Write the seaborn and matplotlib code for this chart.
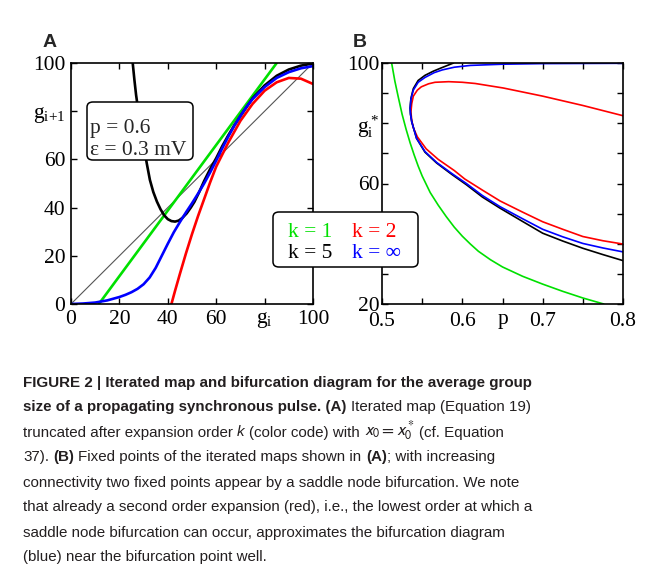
import matplotlib
matplotlib.use('Agg')
import matplotlib.pyplot as plt
import seaborn as sns
import numpy as np
import pandas as pd
from matplotlib.patches import FancyBboxPatch

# 数据
# panel A: iterated map g_i -> g_{i+1}
diag_x = [0, 100]
diag_y = [0, 100]

a_k1_x = [11.5, 85]
a_k1_y = [0, 100]

a_k2_x = [41.5, 43, 45, 47.5, 50, 52.5, 55, 57.5, 60, 65, 70, 75, 80, 85, 90, 95, 100]
a_k2_y = [0, 5.5, 12.5, 21, 29, 36.5, 43.5, 50.5, 57, 67, 76, 83, 88.5, 92, 93.8, 93.5, 91.3]

a_k5_x = [25.5, 26.2, 26.9, 27.7, 28.5, 29.2, 30, 31.3, 32.6, 34, 35.5, 37, 38.5, 40, 41.5,
          43, 44.5, 46, 47.8, 49.5, 51, 53, 55, 57.5, 60, 62.5, 65, 67.5, 70, 75, 80,
          85, 90, 95, 100]
a_k5_y = [100, 93, 86.7, 81, 76, 71, 66, 58.4, 51.5, 46.5, 42.5, 39.3, 36.8, 35.2, 34.4,
          34.2, 34.6, 35.7, 37.6, 40, 42.4, 46.5, 51, 56, 60.5, 65.5, 70, 74.2, 78, 85.3, 90.7,
          94.7, 97.3, 98.9, 99.8]

a_kinf_x = [0, 5, 10, 15, 20, 22.5, 25, 27.5, 30, 32.5, 35, 37.5, 40, 42.5, 45, 47.5, 50,
            52.5, 55, 57.5, 60, 62.5, 65, 67.5, 70, 72.5, 75, 80, 85, 90, 95, 100]
a_kinf_y = [0, 0.2, 0.6, 1.5, 2.9, 3.8, 4.9, 6.3, 8.2, 11, 15, 20, 25, 29.8, 34, 38,
            41.8, 45.8, 50, 54.6, 59.5, 64.6, 69.5, 74, 78, 81.8, 85, 90, 93.8, 96.2,
            97.8, 98.7]

# panel B: fixed points g_i* vs p
b_k1_p = [0.512, 0.516, 0.52, 0.525, 0.53, 0.535, 0.54, 0.545, 0.55, 0.56, 0.57, 0.58,
          0.59, 0.60, 0.61, 0.62, 0.635, 0.65, 0.675, 0.70, 0.725, 0.75, 0.776]
b_k1_g = [100, 94, 89, 83, 78, 73.5, 69.5, 65.8, 62.5, 57, 52.8, 49, 45.5, 42.5, 39.9,
          37.5, 34.7, 32.3, 29.2, 26.6, 24.2, 22, 20]

b_k2_p = [0.80, 0.75, 0.70, 0.651, 0.616, 0.60, 0.583, 0.566, 0.558, 0.549, 0.544, 0.539,
          0.537, 0.536, 0.537, 0.539, 0.544, 0.555, 0.57, 0.59, 0.603, 0.625, 0.647,
          0.675, 0.70, 0.725, 0.75, 0.775, 0.80]
b_k2_g = [82.5, 85.9, 89, 91.7, 93.2, 93.6, 93.8, 93.6, 93.1, 92.1, 91, 89,
          86.5, 83.7, 81, 78.5, 75.5, 71.5, 68, 64.3, 61.5, 57.8, 54.2,
          50.5, 47.3, 44.8, 42.4, 41, 39.9]

b_k5_p = [0.589, 0.574, 0.564, 0.5535, 0.545, 0.539, 0.536, 0.535, 0.5355, 0.537, 0.543,
          0.5535, 0.568, 0.587, 0.605, 0.625, 0.647, 0.675, 0.70, 0.725, 0.75, 0.775, 0.80]
b_k5_g = [100, 98.4, 97.3, 95.9, 94.2, 91.5, 88.2, 85, 83, 80.5, 75,
          70.4, 66.8, 63, 59.6, 55.5, 51.8, 47.4, 43.5, 40.9, 38.5, 36.4, 34.4]

b_kinf_p = [0.80, 0.70, 0.65, 0.61, 0.59, 0.575, 0.565, 0.5535, 0.545, 0.539, 0.536, 0.535,
            0.5355, 0.537, 0.543, 0.5535, 0.568, 0.587, 0.605, 0.625, 0.647, 0.675, 0.70,
            0.725, 0.75, 0.775, 0.80]
b_kinf_g = [99.9, 99.8, 99.6, 99.2, 98.6, 97.7, 96.8, 95.2, 93.6, 91, 88, 85,
            83, 80.5, 75, 70.6, 67, 63.3, 60, 56, 52.3, 48.3, 44.8,
            42.3, 40.1, 38.6, 37.3]

a_xticks = [0, 20, 40, 60, 80, 100]
a_xlabels = ['0', '20', '40', '60', r'$\mathrm{g_i}$', '100']
a_ylabels = ['0', '20', '40', '60', r'$\mathrm{g_{i{+}1}}$', '100']
b_xticks = [0.5, 0.55, 0.6, 0.65, 0.7, 0.75, 0.8]
b_xlabels = ['0.5', '', '0.6', r'$\mathrm{p}$', '0.7', '', '0.8']
b_yticks = [20, 30, 40, 50, 60, 70, 80, 90, 100]
# the 40 label sits under the colour-code box in the reference
b_ylabels = ['20', '', '', '', '60', '', r'$\mathrm{g_i^*}$', '', '100']

GREEN, RED, BLACK, BLUE = '#00e000', '#ff0000', '#000000', '#0000ff'

sns.set_style('ticks')
plt.rcParams['font.family'] = ['Liberation Serif', 'DejaVu Serif']
plt.rcParams['mathtext.fontset'] = 'custom'
plt.rcParams['mathtext.rm'] = 'Liberation Serif'
plt.rcParams['mathtext.it'] = 'Liberation Serif:italic'

W, H = 662, 577
fig = plt.figure(figsize=(W / 100, H / 100), dpi=100)


def fy(py):
    return 1 - py / H


def style_axes(ax):
    for s in ax.spines.values():
        s.set_linewidth(1.2)
        s.set_color('black')
    ax.tick_params(direction='in', top=True, right=True, length=4, width=1,
                   labelsize=15.5, pad=4, colors='black')


axA = fig.add_axes([71 / W, fy(304), 242 / W, 241 / H])
sns.lineplot(x=diag_x, y=diag_y, ax=axA, color='#555555', lw=0.8, sort=False, estimator=None)
sns.lineplot(x=a_k1_x, y=a_k1_y, ax=axA, color=GREEN, lw=1.9, sort=False, estimator=None)
sns.lineplot(x=a_k2_x, y=a_k2_y, ax=axA, color=RED, lw=1.9, sort=False, estimator=None)
sns.lineplot(x=a_k5_x, y=a_k5_y, ax=axA, color=BLACK, lw=1.9, sort=False, estimator=None)
sns.lineplot(x=a_kinf_x, y=a_kinf_y, ax=axA, color=BLUE, lw=1.9, sort=False, estimator=None)
axA.set_xlim(0, 100)
axA.set_ylim(0, 100)
axA.set_xticks(a_xticks)
axA.set_xticklabels(a_xlabels)
axA.set_yticks(a_xticks)
axA.set_yticklabels(a_ylabels)
axA.set_xlabel('')
axA.set_ylabel('')
style_axes(axA)

axB = fig.add_axes([382 / W, fy(304), 241 / W, 241 / H])
sns.lineplot(x=b_k1_p, y=b_k1_g, ax=axB, color=GREEN, lw=1.2, sort=False, estimator=None)
sns.lineplot(x=b_k2_p, y=b_k2_g, ax=axB, color=RED, lw=1.2, sort=False, estimator=None)
sns.lineplot(x=b_k5_p, y=b_k5_g, ax=axB, color=BLACK, lw=1.2, sort=False, estimator=None)
sns.lineplot(x=b_kinf_p, y=b_kinf_g, ax=axB, color=BLUE, lw=1.2, sort=False, estimator=None)
axB.set_xlim(0.5, 0.8)
axB.set_ylim(20, 100)
axB.set_xticks(b_xticks)
axB.set_xticklabels(b_xlabels)
axB.set_yticks(b_yticks)
axB.set_yticklabels(b_ylabels)
axB.set_xlabel('')
axB.set_ylabel('')
style_axes(axB)
axB.tick_params(axis='x', pad=6)
axB.tick_params(axis='y', pad=2)

fig.text(43 / W, fy(47), 'A', fontsize=14, fontweight='bold', family='Liberation Sans')
fig.text(353 / W, fy(47), 'B', fontsize=14, fontweight='bold', family='Liberation Sans')


def box(x0, y0, x1, y1):
    p = FancyBboxPatch((x0 / W, fy(y1)), (x1 - x0) / W, (y1 - y0) / H,
                       boxstyle='round,pad=0,rounding_size=0.009',
                       transform=fig.transFigure, fc='white', ec='black', lw=1.1, zorder=5)
    fig.add_artist(p)


# parameter box in A
box(87, 102, 193, 160)
fig.text(90 / W, fy(132.5), 'p = 0.6', fontsize=15.5, zorder=6)
fig.text(90 / W, fy(155), 'ε = 0.3 mV', fontsize=15.5, zorder=6)

# colour code box
box(273, 212, 418, 267)
fig.text(288 / W, fy(237), 'k = 1', fontsize=15.5, color=GREEN, zorder=6)
fig.text(352 / W, fy(237), 'k = 2', fontsize=15.5, color=RED, zorder=6)
fig.text(288 / W, fy(258), 'k = 5', fontsize=15.5, color=BLACK, zorder=6)
fig.text(352 / W, fy(258), 'k = ∞', fontsize=15.5, color=BLUE, zorder=6)

# caption
cap_font = ['Liberation Sans', 'DejaVu Sans']
cap_size = 10.9
cap_col = '#231f20'
Bd = dict(fontweight='bold')
Rg = dict()
It = dict(fontstyle='italic')
Mt = dict(math_fontfamily='stixsans', fontsize=12.5)

caption = [
    (386.5, [('FIGURE 2 | Iterated map and bifurcation diagram for the average group', Bd)]),
    (411.5, [('size of a propagating synchronous pulse. (A)', Bd), (' Iterated map (Equation 19)', Rg)]),
    (436.5, [('truncated after expansion order ', Rg), ('k', It), (' (color code) with ', Rg),
             (r'$x_0 = x_0^*$', Mt), (' (cf. Equation', Rg)]),
    (461.5, [('37). ', Rg), ('(B)', Bd), (' Fixed points of the iterated maps shown in ', Rg),
             ('(A)', Bd), ('; with increasing', Rg)]),
    (486.5, [('connectivity two fixed points appear by a saddle node bifurcation. We note', Rg)]),
    (511.5, [('that already a second order expansion (red), i.e., the lowest order at which a', Rg)]),
    (536.5, [('saddle node bifurcation can occur, approximates the bifurcation diagram', Rg)]),
    (561.5, [('(blue) near the bifurcation point well.', Rg)]),
]

renderer = fig.canvas.get_renderer()


def props(kw):
    d = {'family': cap_font, 'fontsize': cap_size}
    d.update(kw)
    return d


def width_of(s, kw):
    t = fig.text(0, 0, s, **props(kw))
    w = t.get_window_extent(renderer).width
    t.remove()
    return w


for y_px, segs in caption:
    x = 23
    for txt, kw in segs:
        sp = width_of('a a', Rg) - width_of('aa', Rg)
        lead = len(txt) - len(txt.lstrip(' '))
        trail = len(txt) - len(txt.rstrip(' '))
        x += lead * sp
        t = fig.text(x / W, fy(y_px), txt.strip(' '), color=cap_col, va='baseline',
                     ha='left', **props(kw))
        x += t.get_window_extent(renderer).width + trail * sp

fig.savefig('out.png', dpi=100)
